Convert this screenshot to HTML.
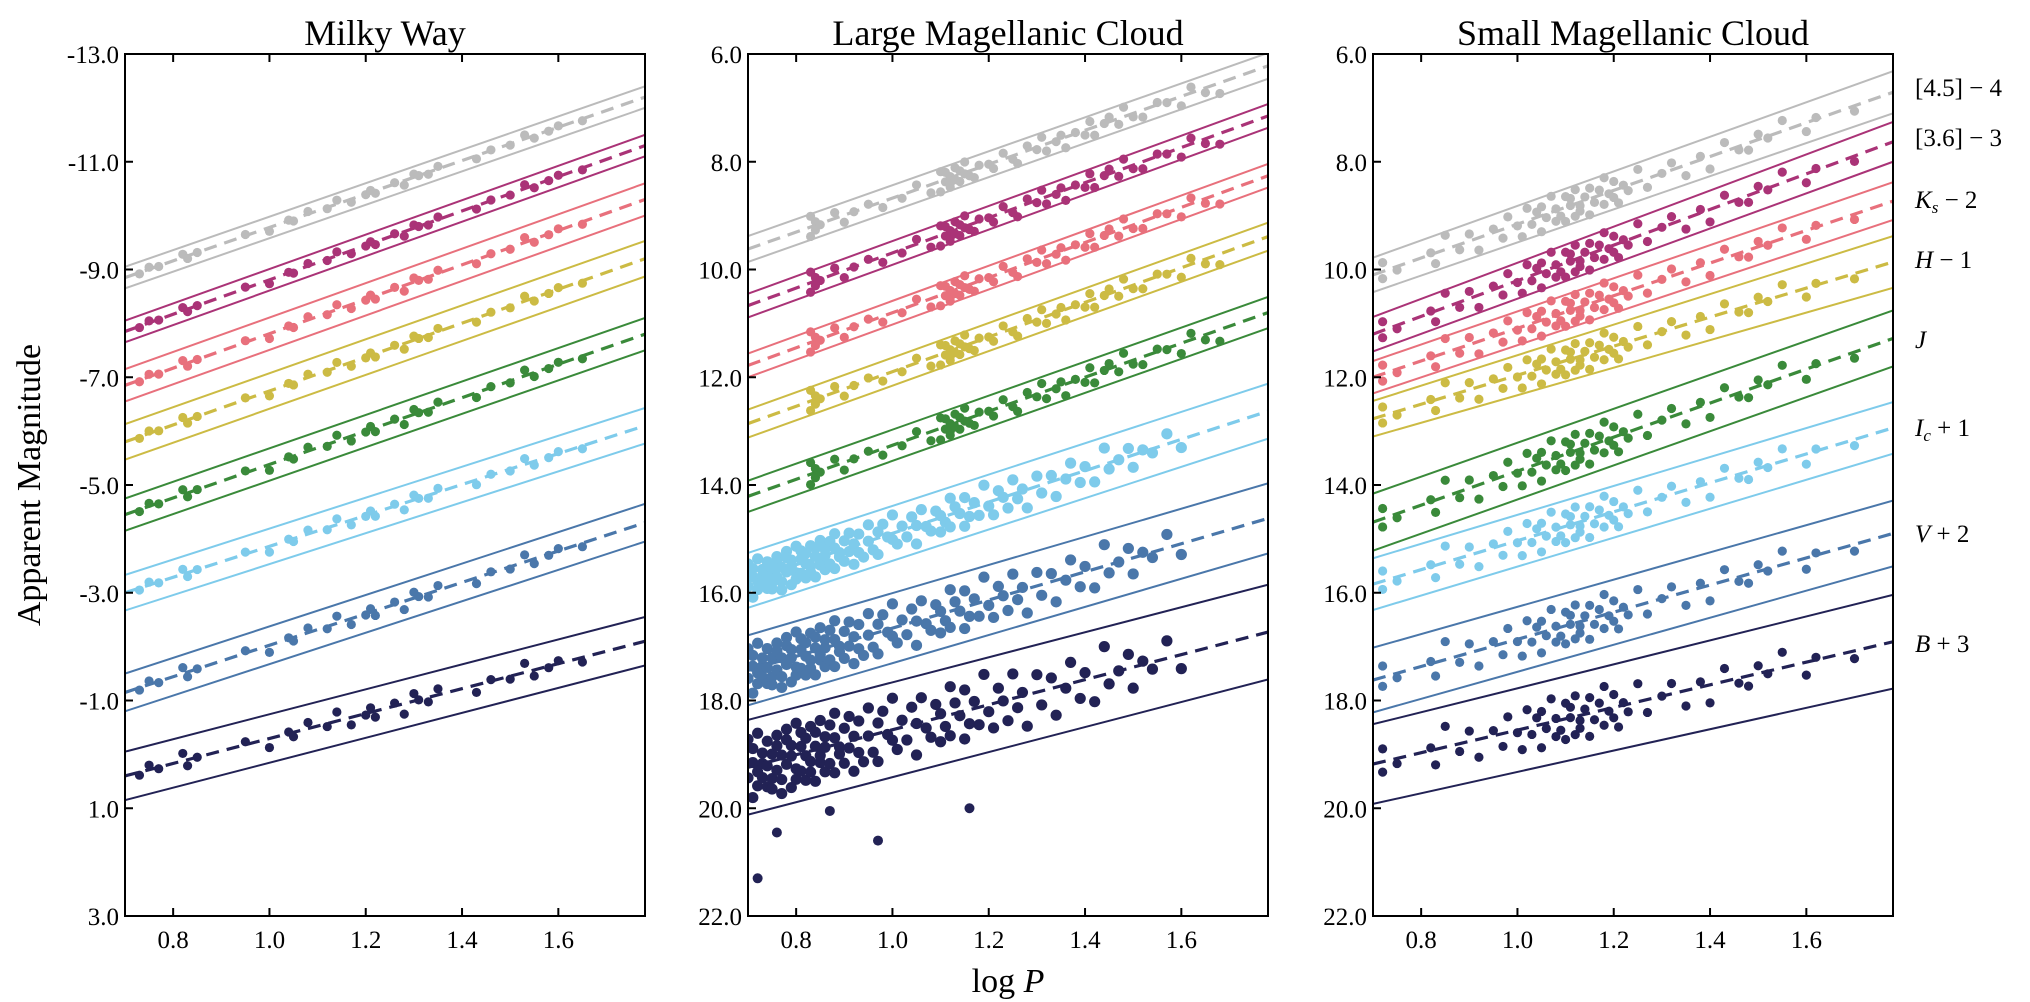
<!DOCTYPE html>
<html><head><meta charset="utf-8">
<style>
html,body{margin:0;padding:0;background:#fff;}
svg{display:block;font-family:"Liberation Serif",serif;}
</style></head>
<body>
<svg id="chart" width="2030" height="1002" viewBox="0 0 2030 1002" xmlns="http://www.w3.org/2000/svg"></svg>
<script>
// ---- data ----
const panelTitles = ["Milky Way","Large Magellanic Cloud","Small Magellanic Cloud"];
const bandNames = ["[4.5]-4","[3.6]-3","Ks-2","H-1","J","Ic+1","V+2","B+3"];
const bandColors = ["#bbbbbb","#aa3377","#e8707c","#ccbb44","#3a8a3a","#7ecbeb","#4a77aa","#222255"];
const xTicks = [0.8,1.0,1.2,1.4,1.6];
const mwYTicks = [-13,-11,-9,-7,-5,-3,-1,1,3];
const mcYTicks = [6,8,10,12,14,16,18,20,22];
// dashed fit: magnitude at logP=0.7 (left) and logP=1.78 (right)
const mwLeft  = [-8.85,-7.85,-6.85,-5.8,-4.45,-3.0,-1.15,0.4];
const mwRight = [-12.2,-11.3,-10.3,-9.2,-7.8,-6.1,-4.3,-2.1];
const lmcLeft  = [9.62,10.67,11.78,12.86,14.21,15.77,17.44,19.24];
const lmcRight = [6.22,7.15,8.26,9.39,10.8,12.63,14.62,16.73];
const smcLeft  = [10.10,11.20,12.0,12.77,14.69,15.84,17.62,19.18];
const smcRight = [6.71,7.63,8.73,9.86,11.28,12.94,14.90,16.91];
// solid bounds half-width (mag)
const mwWidth  = [0.2,0.2,0.3,0.33,0.3,0.33,0.35,0.45];
const lmcWidth = [0.24,0.22,0.22,0.26,0.29,0.51,0.65,0.88];
const smcWidthL = [0.32,0.32,0.3,0.33,0.53,0.48,0.6,0.74];
const smcWidthR = [0.39,0.37,0.35,0.48,0.52,0.48,0.61,0.87];
// stars
const mwLogP = [0.73,0.75,0.77,0.82,0.83,0.85,0.95,1.0,1.04,1.05,1.08,1.12,1.14,1.17,1.2,1.21,1.22,1.26,1.28,1.3,1.31,1.33,1.35,1.43,1.46,1.5,1.53,1.55,1.58,1.6,1.65];
const mwResid = [0.2,-0.3,0.1,-0.5,0.4,0.0,-0.2,0.6,-0.1,0.3,-0.4,0.2,-0.6,0.5,0.1,-0.3,0.4,-0.2,0.7,-0.5,0.0,0.3,-0.4,0.5,-0.1,0.2,-0.6,0.4,0.1,-0.2,0.3];
const mwScatter = [0.12,0.12,0.15,0.15,0.18,0.18,0.22,0.28];
const lmcSparseLogP = [0.83,0.83,0.84,0.84,0.85,0.88,0.9,0.92,0.95,0.98,1.02,1.05,1.08,1.1,1.1,1.11,1.11,1.12,1.12,1.12,1.13,1.13,1.14,1.14,1.15,1.15,1.16,1.17,1.18,1.2,1.21,1.23,1.25,1.26,1.28,1.3,1.31,1.32,1.34,1.35,1.36,1.38,1.4,1.41,1.42,1.44,1.45,1.47,1.48,1.5,1.52,1.55,1.57,1.6,1.62,1.65,1.68];
const lmcSparseResid = [-0.9,0.8,-0.3,0.4,0.1,-0.5,0.6,0.0,-0.2,0.5,0.3,-0.4,0.7,-0.8,0.9,0.2,-0.6,0.5,-0.1,0.8,-0.7,0.3,0.6,-0.3,0.1,-0.9,0.4,0.7,-0.2,0.0,0.5,-0.5,0.3,0.8,-0.4,0.2,-0.7,0.6,0.1,-0.3,0.9,-0.1,0.4,-0.6,0.7,0.0,-0.4,0.5,-0.8,0.3,0.6,-0.2,0.1,0.8,-0.5,0.4,0.9];
const lmcSparseScatter = [0.22,0.22,0.22,0.22,0.24];
const lmcDenseLogP = [0.70,0.70,0.71,0.71,0.71,0.72,0.72,0.72,0.73,0.73,0.73,0.74,0.74,0.74,0.75,0.75,0.75,0.76,0.76,0.76,0.77,0.77,0.77,0.78,0.78,0.78,0.79,0.79,0.79,0.80,0.80,0.80,0.81,0.81,0.81,0.82,0.82,0.82,0.83,0.83,0.83,0.84,0.84,0.84,0.85,0.85,0.85,0.86,0.86,0.86,0.87,0.87,0.88,0.88,0.88,0.89,0.89,0.90,0.90,0.91,0.91,0.92,0.92,0.93,0.93,0.94,0.95,0.95,0.96,0.97,0.97,0.98,0.99,1.00,1.00,1.01,1.02,1.03,1.04,1.05,1.05,1.06,1.07,1.08,1.09,1.10,1.10,1.11,1.12,1.12,1.13,1.14,1.15,1.15,1.16,1.17,1.18,1.19,1.20,1.21,1.22,1.23,1.24,1.25,1.26,1.27,1.28,1.30,1.31,1.33,1.34,1.36,1.37,1.39,1.40,1.42,1.44,1.45,1.47,1.49,1.50,1.52,1.54,1.57,1.60];
const lmcDenseResid = [-0.8,0.3,-0.1,0.9,-0.5,0.2,0.6,-0.9,0.0,0.4,-0.3,0.7,-0.6,0.1,0.8,-0.2,0.5,-0.7,0.3,-0.4,1.0,-0.1,0.6,-0.8,0.2,-0.5,0.9,0.0,-0.3,0.4,-0.9,0.7,-0.2,0.5,-0.6,0.1,0.8,-0.4,0.3,-0.7,0.6,-0.1,0.9,-0.5,0.2,-0.8,0.4,0.0,-0.3,0.7,-0.6,0.5,-0.2,0.8,-0.9,0.1,0.3,-0.4,0.6,-0.7,0.2,0.9,-0.1,-0.5,0.4,0.7,-0.8,0.0,0.5,-0.3,0.8,-0.6,0.1,0.3,-0.9,0.6,-0.2,0.4,-0.5,0.9,0.0,-0.7,0.2,0.5,-0.4,0.7,-0.1,0.3,-0.8,0.6,-0.3,0.1,0.8,-0.6,0.4,-0.2,0.5,-0.9,0.2,0.7,-0.4,0.0,0.6,-0.7,0.3,-0.1,0.9,-0.5,0.4,-0.3,0.8,0.1,-0.6,0.5,-0.2,0.7,-0.8,0.3,0.0,-0.4,0.6,-0.1,0.2,-0.5,0.4];
const lmcDenseScatter = [0.38,0.5,0.65];
const lmcOutlierLogP = [0.72,0.76,0.87,0.97,1.16];
const lmcOutlierMag = [21.3,20.45,20.05,20.6,20.0];
const smcLogP = [0.72,0.72,0.75,0.82,0.83,0.85,0.88,0.9,0.92,0.95,0.97,0.98,1.0,1.01,1.02,1.03,1.04,1.05,1.05,1.06,1.07,1.08,1.08,1.09,1.1,1.1,1.11,1.11,1.12,1.12,1.13,1.13,1.14,1.15,1.15,1.16,1.17,1.18,1.18,1.19,1.2,1.2,1.21,1.22,1.23,1.25,1.27,1.3,1.32,1.35,1.38,1.4,1.43,1.46,1.48,1.5,1.52,1.55,1.6,1.62,1.7];
const smcResid = [-0.5,0.4,0.2,-0.1,0.6,-0.8,0.3,-0.4,0.7,-0.2,0.5,-0.6,0.1,0.8,-0.7,0.3,-0.3,0.9,-0.5,0.2,-0.9,0.6,-0.1,0.4,-0.6,0.8,0.0,-0.4,0.7,-0.8,0.2,0.5,-0.2,0.9,-0.6,0.3,-0.3,0.6,-0.9,0.1,0.4,-0.5,0.8,-0.1,0.3,-0.7,0.5,0.0,-0.4,0.6,-0.2,0.7,-0.5,0.2,0.4,-0.3,0.1,-0.6,0.5,-0.1,0.3];
const smcScatter = [0.33,0.33,0.33,0.33,0.38,0.38,0.42,0.48];
const rightLabelY = [88,138,200,260,340,428,534,644];

// ---- layout ----
const NS = "http://www.w3.org/2000/svg";
const svg = document.getElementById("chart");
const panelX = [125,748,1373];
const PW = 520, PT = 54, PB = 916;
const XMIN = 0.7, XMAX = 1.78;
function mk(tag, attrs, parent){ const e=document.createElementNS(NS,tag); for(const k in attrs) e.setAttribute(k,attrs[k]); (parent||svg).appendChild(e); return e; }
function xScale(p, v){ return panelX[p] + (v-XMIN)/(XMAX-XMIN)*PW; }
function yScale(p, m){ const lo = p===0?-13:6, hi = p===0?3:22; return PT + (m-lo)/(hi-lo)*(PB-PT); }

const defs = mk("defs",{});
for(let p=0;p<3;p++){
  const cp = mk("clipPath",{id:"clip"+p},defs);
  mk("rect",{x:panelX[p],y:PT,width:PW,height:PB-PT},cp);
}

const lefts=[mwLeft,lmcLeft,smcLeft], rights=[mwRight,lmcRight,smcRight];
function fitMag(p,b,v){ const L=lefts[p][b], R=rights[p][b]; return L + (R-L)*(v-XMIN)/(XMAX-XMIN); }
function widthAt(p,b,v){
  if(p===0) return mwWidth[b];
  if(p===1) return lmcWidth[b];
  return smcWidthL[b] + (smcWidthR[b]-smcWidthL[b])*(v-XMIN)/(XMAX-XMIN);
}

for(let p=0;p<3;p++){
  const g = mk("g",{"clip-path":"url(#clip"+p+")"});
  
  
  for(let b=0;b<8;b++){
    const col = bandColors[b];
    for(const s of [-1,1]){
      const ln = mk("line",{x1:xScale(p,XMIN),y1:yScale(p,fitMag(p,b,XMIN)+s*widthAt(p,b,XMIN)),x2:xScale(p,XMAX),y2:yScale(p,fitMag(p,b,XMAX)+s*widthAt(p,b,XMAX)),stroke:col,"stroke-width":2},g);
      
      
    }
    const dl = mk("line",{x1:xScale(p,XMIN),y1:yScale(p,fitMag(p,b,XMIN)),x2:xScale(p,XMAX),y2:yScale(p,fitMag(p,b,XMAX)),stroke:col,"stroke-width":3.2,"stroke-dasharray":"13 8"},g);
    
    
  }
  for(let b=0;b<8;b++){
    const col = bandColors[b];
    let xs=[], rs=[], sc=0, r=4.6;
    if(p===0){ xs=mwLogP; rs=mwResid; sc=mwScatter[b]; }
    else if(p===1){
      if(b<5){ xs=lmcSparseLogP; rs=lmcSparseResid; sc=lmcSparseScatter[b]; }
      else { xs=lmcDenseLogP; rs=lmcDenseResid; sc=lmcDenseScatter[b-5]; r=5.6; }
    } else { xs=smcLogP; rs=smcResid; sc=smcScatter[b]; }
    for(let i=0;i<xs.length;i++){
      const m = fitMag(p,b,xs[i]) + rs[i%rs.length]*sc;
      const c = mk("circle",{cx:xScale(p,xs[i]),cy:yScale(p,m),r:r,fill:col},g);
      
      
    }
    if(p===1 && b===7){
      for(let i=0;i<lmcOutlierLogP.length;i++){
        const c = mk("circle",{cx:xScale(p,lmcOutlierLogP[i]),cy:yScale(p,lmcOutlierMag[i]),r:5,fill:col},g);
        
        
      }
    }
  }
  const fr = mk("rect",{x:panelX[p],y:PT,width:PW,height:PB-PT,fill:"none",stroke:"#000","stroke-width":2});
  
  
  const t = mk("text",{x:panelX[p]+PW/2,y:45,"text-anchor":"middle","font-size":36});
  t.textContent = panelTitles[p];
  
  
  for(const v of xTicks){
    const x = xScale(p,v);
    mk("line",{x1:x,y1:PB,x2:x,y2:PB-8,stroke:"#000","stroke-width":2});
    mk("line",{x1:x,y1:PT,x2:x,y2:PT+8,stroke:"#000","stroke-width":2});
    const tl = mk("text",{x:x,y:948,"text-anchor":"middle","font-size":25});
    tl.textContent = v.toFixed(1);
    
    
  }
  const yt = p===0?mwYTicks:mcYTicks;
  for(const v of yt){
    const y = yScale(p,v);
    mk("line",{x1:panelX[p],y1:y,x2:panelX[p]+8,y2:y,stroke:"#000","stroke-width":2});
    const tl = mk("text",{x:panelX[p]-6,y:y+9,"text-anchor":"end","font-size":25});
    tl.textContent = v.toFixed(1);
    
    
  }
}

const yt = mk("text",{x:0,y:0,"text-anchor":"middle","font-size":34,transform:"translate(40,485) rotate(-90)"});
yt.textContent = "Apparent Magnitude";


const xt = mk("text",{x:1008,y:992,"text-anchor":"middle","font-size":34});


const xt1 = mk("tspan",{},xt); xt1.textContent = "log ";
const xt2 = mk("tspan",{"font-style":"italic"},xt); xt2.textContent = "P";

const labelParts = [
  [["[4.5] − 4",""]],
  [["[3.6] − 3",""]],
  [["K","i"],["s","sub"],[" − 2",""]],
  [["H","i"],[" − 1",""]],
  [["J","i"]],
  [["I","i"],["c","sub"],[" + 1",""]],
  [["V","i"],[" + 2",""]],
  [["B","i"],[" + 3",""]]
];
for(let b=0;b<8;b++){
  const t = mk("text",{x:1915,y:rightLabelY[b]+8,"font-size":25});
  
  
  for(const [s,st] of labelParts[b]){
    const ts = mk("tspan",{},t);
    if(st==="i") ts.setAttribute("font-style","italic");
    if(st==="sub"){ ts.setAttribute("font-style","italic"); ts.setAttribute("font-size","17"); ts.setAttribute("dy","5"); }
    if(st==="" && labelParts[b].length>1 && labelParts[b][1][1]==="sub" && s.startsWith(" ")) ts.setAttribute("dy","-5");
    ts.textContent = s;
  }
}
</script>
</body></html>
